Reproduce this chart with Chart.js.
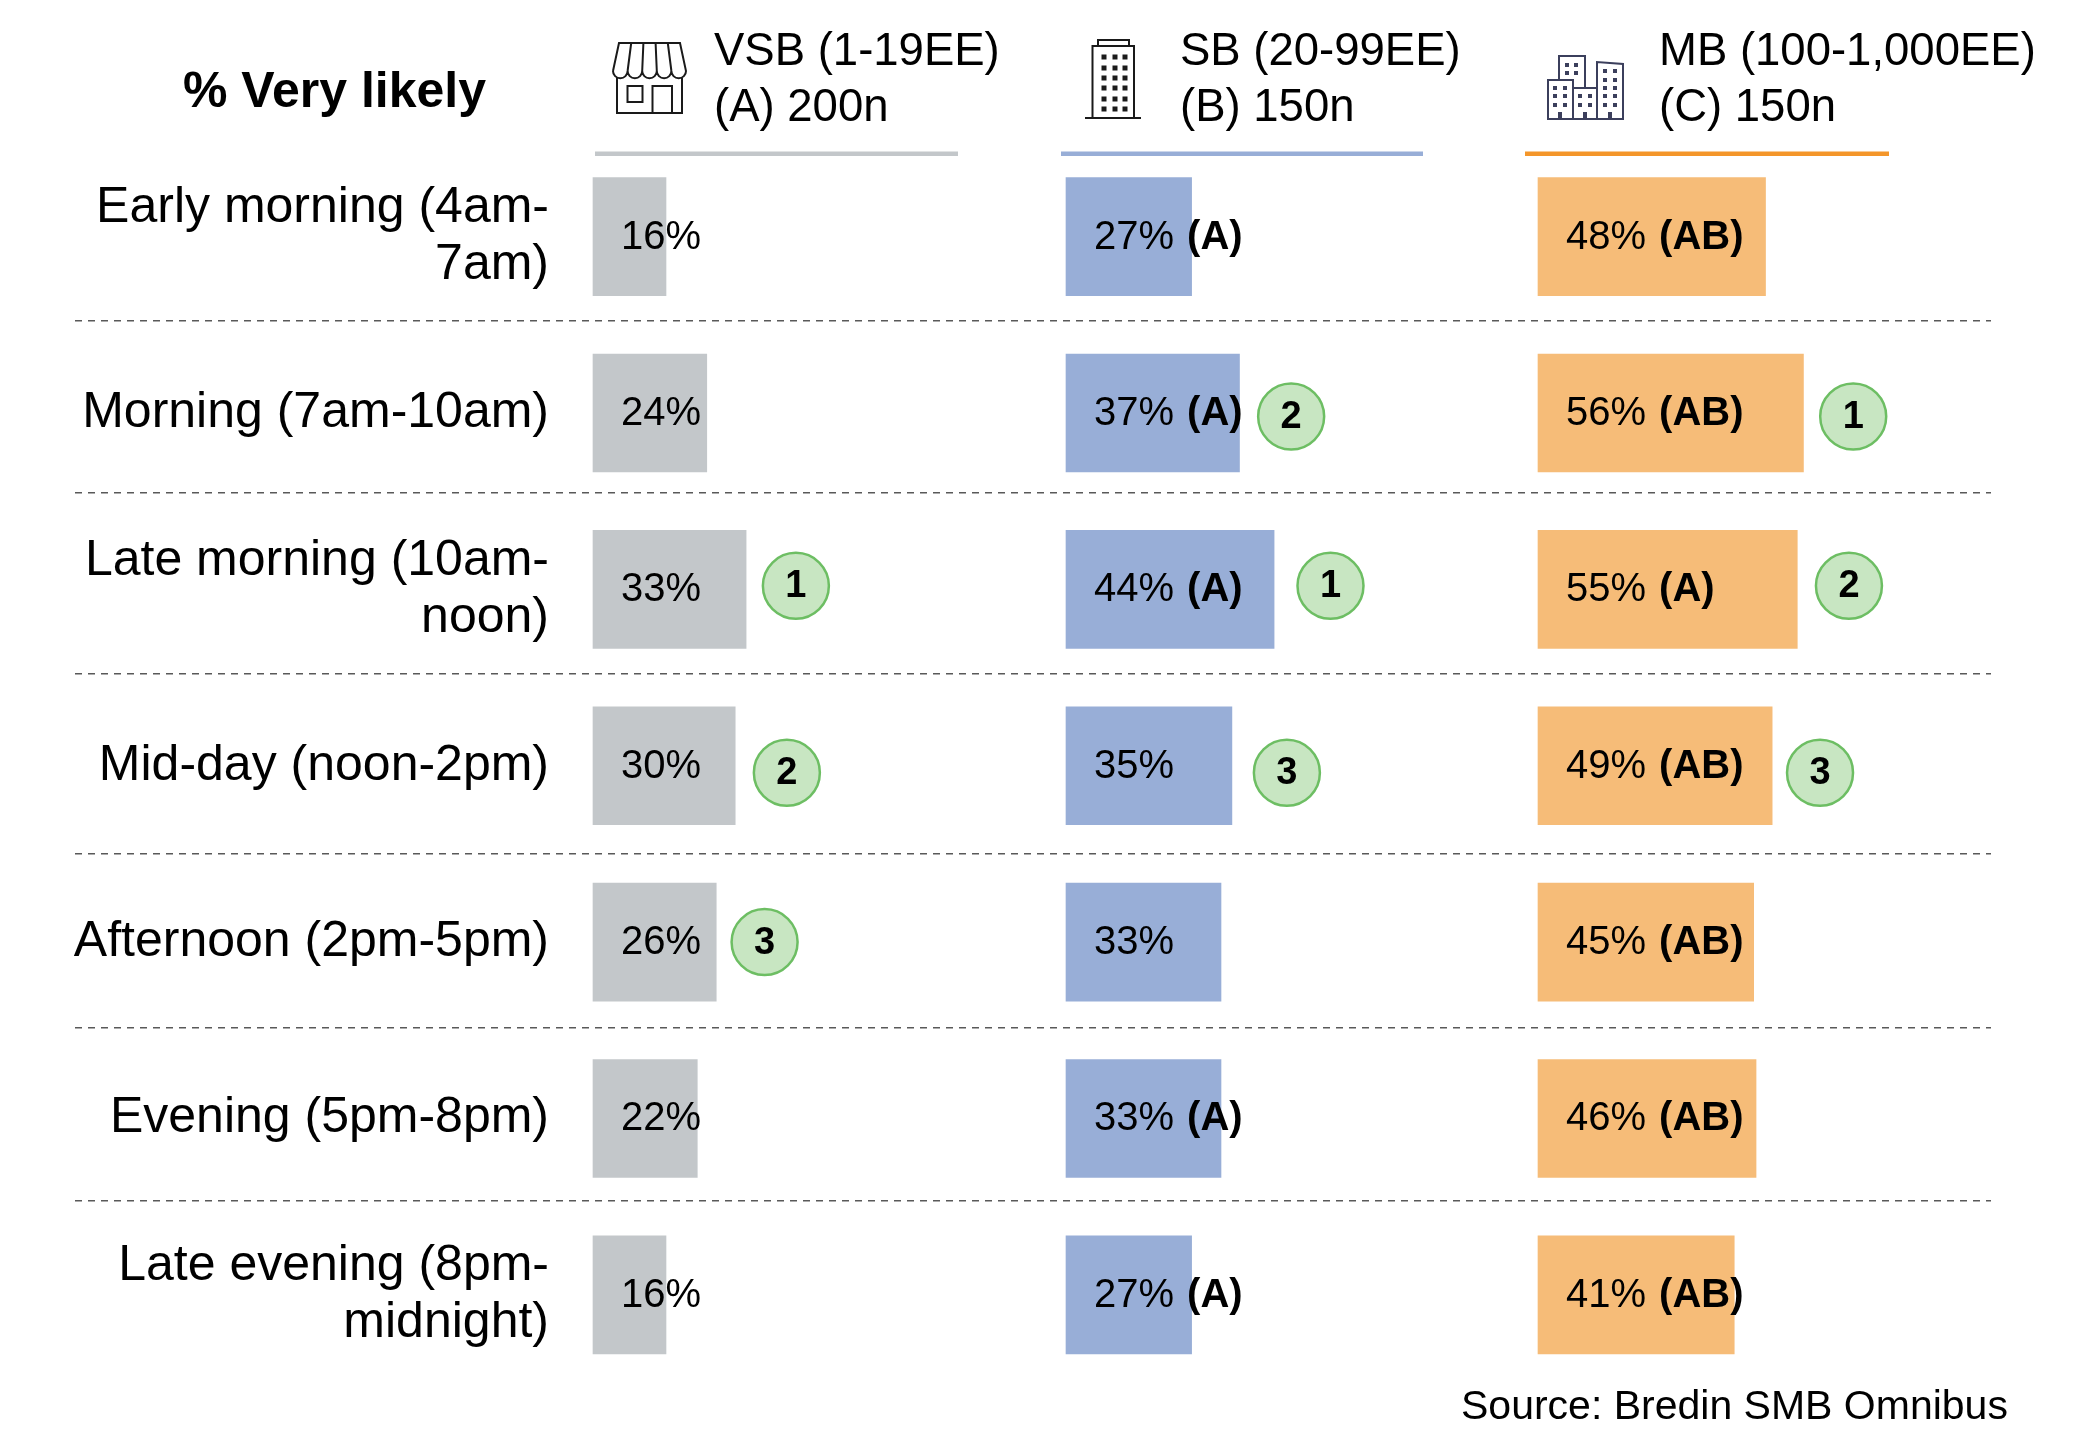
<!DOCTYPE html>
<html>
<head>
<meta charset="utf-8">
<title>% Very likely</title>
<script src="https://cdn.jsdelivr.net/npm/chart.js@4"></script>
<style>
	html, body { margin: 0; padding: 0; background: #ffffff; }
	canvas { display: block; }
</style>
</head>
<body>
<canvas id="daypart_chart" width="2074" height="1455"></canvas>
<script>
var rowNames = ["Early morning (4am-\n7am)", "Morning (7am-10am)", "Late morning (10am-\nnoon)", "Mid-day (noon-2pm)", "Afternoon (2pm-5pm)", "Evening (5pm-8pm)", "Late evening (8pm-\nmidnight)"];

// bar lengths as measured, the printed labels are kept apart below
var vsbValues = [15.4, 24, 32.3, 30, 26, 22, 15.4];
var sbValues = [26.5, 36.6, 43.9, 35, 32.7, 32.7, 26.5];
var mbValues = [48, 56, 54.7, 49.4, 45.5, 46, 41.4];

var vsbLabels = ["16%", "24%", "33%", "30%", "26%", "22%", "16%"];
var sbLabels = ["27%", "37%", "44%", "35%", "33%", "33%", "27%"];
var mbLabels = ["48%", "56%", "55%", "49%", "45%", "46%", "41%"];

var vsbSig = ["", "", "", "", "", "", ""];
var sbSig = ["(A)", "(A)", "(A)", "", "", "(A)", "(A)"];
var mbSig = ["(AB)", "(AB)", "(A)", "(AB)", "(AB)", "(AB)", "(AB)"];

// green rank circles
var vsbRanks = [1, 2, 3];
var vsbRankX = [42.8, 40.9, 36.2];
var vsbRankRow = [1.98, 3.04, 4];
var sbRanks = [2, 1, 3];
var sbRankX = [47.5, 55.8, 46.6];
var sbRankRow = [1.02, 1.98, 3.04];
var mbRanks = [1, 2, 3];
var mbRankX = [66.5, 65.6, 59.5];
var mbRankRow = [1.02, 1.98, 3.04];

var rowGaps = [0.478, 1.453, 2.479, 3.5, 4.486, 5.467];

var headerLines = [["VSB (1-19EE)", "(A) 200n"], ["SB (20-99EE)", "(B) 150n"], ["MB (100-1,000EE)", "(C) 150n"]];

var FONT = '"Liberation Sans", Arial, sans-serif';
var PX_PER_PCT = 4.74;
var AREA_LEFT = 75, AREA_RIGHT = 1991, AREA_TOP = 148.5, AREA_BOTTOM = 1383;
var COL_LEFT = [593, 1066, 1538];
var BAR_COLORS = ["#c3c7ca", "#98aed7", "#f6bc78"];
var RULE_COLORS = ["#c3c7ca", "#98aed7", "#f4962a"];

function xRange(colLeft){
	return {
		type: "linear",
		display: false,
		min: (AREA_LEFT - colLeft) / PX_PER_PCT,
		max: (AREA_RIGHT - colLeft) / PX_PER_PCT
	};
}

function barSet(values, color, axisId){
	return {
		type: "bar",
		indexAxis: "y",
		data: values,
		backgroundColor: color,
		borderWidth: 0,
		barThickness: 118,
		grouped: false,
		xAxisID: axisId,
		yAxisID: "y",
		order: 2
	};
}

function rankSet(xs, rows, axisId){
	var pts = [];
	for (var i = 0; i < xs.length; i++) {
		pts.push({x: xs[i], y: rows[i]});
	}
	return {
		type: "scatter",
		indexAxis: "x",
		data: pts,
		pointRadius: 33,
		pointHoverRadius: 33,
		pointBackgroundColor: "#c8e6c2",
		pointBorderColor: "#6dbe63",
		pointBorderWidth: 2.5,
		xAxisID: axisId,
		yAxisID: "yRows",
		clip: false,
		order: 1
	};
}

function drawStore(ctx){
	ctx.strokeStyle = "#1a1a1a";
	ctx.lineWidth = 2;
	ctx.beginPath();
	ctx.moveTo(613, 71);
	ctx.lineTo(619, 43);
	ctx.lineTo(680, 43);
	ctx.lineTo(686, 71);
	for (var i = 0; i < 5; i++) {
		ctx.arc(678.7 - i * 14.6, 71, 7.3, 0, Math.PI);
	}
	ctx.stroke();
	ctx.beginPath();
	for (var j = 1; j < 5; j++) {
		ctx.moveTo(619 + j * 12.2, 43);
		ctx.lineTo(613 + j * 14.6, 71);
	}
	ctx.moveTo(617, 78);
	ctx.lineTo(617, 113);
	ctx.lineTo(682, 113);
	ctx.lineTo(682, 78);
	ctx.rect(627.5, 86, 15, 16);
	ctx.moveTo(652.5, 113);
	ctx.lineTo(652.5, 86);
	ctx.lineTo(672, 86);
	ctx.lineTo(672, 113);
	ctx.stroke();
}

function drawTower(ctx){
	ctx.strokeStyle = "#1a1a1a";
	ctx.fillStyle = "#1a1a1a";
	ctx.lineWidth = 2;
	ctx.beginPath();
	ctx.moveTo(1098, 46);
	ctx.lineTo(1098, 40);
	ctx.lineTo(1129, 40);
	ctx.lineTo(1129, 46);
	ctx.rect(1092.5, 46, 41.5, 72);
	ctx.moveTo(1085, 118);
	ctx.lineTo(1141, 118);
	ctx.stroke();
	var xs = [1104, 1115, 1125];
	var ys = [57, 68, 78, 88, 99, 109];
	for (var r = 0; r < ys.length; r++) {
		for (var c = 0; c < xs.length; c++) {
			ctx.fillRect(xs[c] - 2.5, ys[r] - 2.5, 5, 5);
		}
	}
}

function drawCity(ctx){
	ctx.strokeStyle = "#3b3f5c";
	ctx.fillStyle = "#3b3f5c";
	ctx.lineWidth = 2;
	ctx.beginPath();
	ctx.rect(1548, 80, 25, 39);
	ctx.rect(1573, 88, 24, 31);
	ctx.moveTo(1559, 80);
	ctx.lineTo(1559, 56);
	ctx.lineTo(1585, 56);
	ctx.lineTo(1585, 88);
	ctx.moveTo(1597, 119);
	ctx.lineTo(1597, 62);
	ctx.lineTo(1623, 64);
	ctx.lineTo(1623, 119);
	ctx.lineTo(1597, 119);
	ctx.stroke();
	var win = [
		[1567, 65], [1576, 65], [1567, 73], [1576, 73],
		[1555, 88], [1565, 88], [1555, 96], [1565, 96], [1555, 105], [1565, 105],
		[1580, 96], [1590, 96], [1580, 105], [1590, 105],
		[1605, 71], [1615, 71], [1605, 80], [1615, 80], [1605, 88], [1615, 88], [1605, 96], [1615, 96], [1605, 105], [1615, 105]
	];
	for (var i = 0; i < win.length; i++) {
		ctx.fillRect(win[i][0] - 2, win[i][1] - 2, 4, 4);
	}
	ctx.fillRect(1558, 112, 4, 7);
	ctx.fillRect(1583, 112, 4, 7);
	ctx.fillRect(1608, 112, 4, 7);
}

var textPlugin = {
	id: "textPlugin",
	afterDatasetsDraw: function(chart){
		var ctx = chart.ctx;
		var yScale = chart.scales.y;
		var rowScale = chart.scales.yRows;
		var i, c;

		ctx.save();
		ctx.textBaseline = "middle";
		ctx.fillStyle = "#000000";

		// row names
		ctx.textAlign = "right";
		ctx.font = "50px " + FONT;
		for (i = 0; i < rowNames.length; i++) {
			var cy = yScale.getPixelForValue(i);
			var lines = rowNames[i].split("\n");
			for (var l = 0; l < lines.length; l++) {
				ctx.fillText(lines[l], 549, cy + (l - (lines.length - 1) / 2) * 57);
			}
		}

		// percent labels and significance letters
		var allLabels = [vsbLabels, sbLabels, mbLabels];
		var allSig = [vsbSig, sbSig, mbSig];
		ctx.textAlign = "left";
		for (c = 0; c < 3; c++) {
			for (i = 0; i < allLabels[c].length; i++) {
				var y = yScale.getPixelForValue(i) + 1;
				var x = COL_LEFT[c] + 28;
				ctx.font = "40px " + FONT;
				ctx.fillText(allLabels[c][i], x, y);
				if (allSig[c][i]) {
					var w = ctx.measureText(allLabels[c][i]).width;
					ctx.font = "bold 40px " + FONT;
					ctx.fillText(allSig[c][i], x + w + 13, y);
				}
			}
		}

		// rank numbers inside the circles
		var allRanks = [vsbRanks, sbRanks, mbRanks];
		ctx.textAlign = "center";
		ctx.font = "bold 38px " + FONT;
		for (c = 0; c < 3; c++) {
			var meta = chart.getDatasetMeta(3 + c);
			for (i = 0; i < allRanks[c].length; i++) {
				ctx.fillText(String(allRanks[c][i]), meta.data[i].x, meta.data[i].y + 1);
			}
		}

		// column headers
		var headX = [714, 1180, 1659];
		ctx.textAlign = "left";
		ctx.textBaseline = "alphabetic";
		ctx.font = "45.5px " + FONT;
		for (c = 0; c < 3; c++) {
			ctx.fillText(headerLines[c][0], headX[c], 65);
			ctx.fillText(headerLines[c][1], headX[c], 121);
		}

		ctx.font = "bold 50px " + FONT;
		ctx.fillText("% Very likely", 183, 107);

		ctx.font = "41px " + FONT;
		ctx.fillText("Source: Bredin SMB Omnibus", 1461, 1419);

		// coloured rules under the headers
		var ruleX = [[595, 958], [1061, 1423], [1525, 1889]];
		for (c = 0; c < 3; c++) {
			ctx.fillStyle = RULE_COLORS[c];
			ctx.fillRect(ruleX[c][0], 151.5, ruleX[c][1] - ruleX[c][0], 4.5);
		}

		drawStore(ctx);
		drawTower(ctx);
		drawCity(ctx);
		ctx.restore();
	}
};

new Chart(document.getElementById("daypart_chart"), {
	data: {
		labels: rowNames,
		datasets: [
			barSet(vsbValues, BAR_COLORS[0], "xA"),
			barSet(sbValues, BAR_COLORS[1], "xB"),
			barSet(mbValues, BAR_COLORS[2], "xC"),
			rankSet(vsbRankX, vsbRankRow, "xA"),
			rankSet(sbRankX, sbRankRow, "xB"),
			rankSet(mbRankX, mbRankRow, "xC")
		]
	},
	options: {
		responsive: false,
		animation: false,
		events: [],
		layout: {
			padding: {left: AREA_LEFT, right: 2074 - AREA_RIGHT, top: AREA_TOP, bottom: 1455 - AREA_BOTTOM}
		},
		plugins: {
			legend: {display: false},
			tooltip: {enabled: false}
		},
		scales: {
			xA: xRange(COL_LEFT[0]),
			xB: xRange(COL_LEFT[1]),
			xC: xRange(COL_LEFT[2]),
			y: {
				type: "category",
				display: false,
				offset: true,
				labels: rowNames
			},
			yRows: {
				type: "linear",
				position: "left",
				reverse: true,
				min: -0.5,
				max: 6.5,
				afterBuildTicks: function(axis){
					axis.ticks = rowGaps.map(function(v){ return {value: v}; });
				},
				afterFit: function(axis){
					axis.width = 0;
				},
				ticks: {display: false},
				border: {display: false, dash: [7, 6]},
				grid: {color: "#595959", lineWidth: 1.5, drawTicks: false}
			}
		}
	},
	plugins: [textPlugin]
});
</script>
</body>
</html>
